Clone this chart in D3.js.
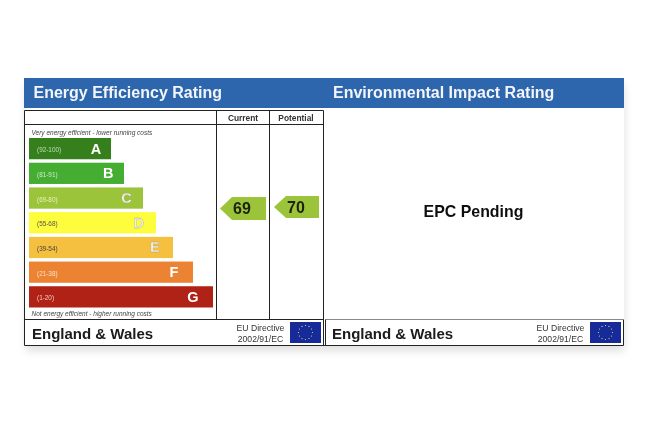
<!DOCTYPE html>
<html>
<head>
<meta charset="utf-8">
<script src="https://cdnjs.cloudflare.com/ajax/libs/d3/7.8.5/d3.min.js"></script>
<style>
html, body { margin: 0; padding: 0; background: #fff; }
svg { display: block; font-family: "Liberation Sans", Arial, sans-serif; }
</style>
</head>
<body>
<script>
// bands, top to bottom
const bandLetters = ["A", "B", "C", "D", "E", "F", "G"];
const bandRanges = ["(92-100)", "(81-91)", "(69-80)", "(55-68)", "(39-54)", "(21-38)", "(1-20)"];
const bandLengths = [82, 95, 114, 127, 144, 164, 184];
const bandColors = ["#35801f", "#44ad33", "#9cc43a", "#fdfd3c", "#f5c03f", "#ec8331", "#b12318"];
const rangeColors = ["#c4dcb8", "#cdeac6", "#e6f0c0", "#555", "#444", "#fbe0c8", "#f0c8c0"];
const letterColors = ["#fff", "#fff", "#f4f6e4", "#f4f4d0", "#fdf4dc", "#fff", "#fff"];

const columnNames = ["Current", "Potential"];
const ratings = [69, 70];
const titles = ["Energy Efficiency Rating", "Environmental Impact Rating"];

const width = 648, height = 446;

const svg = d3.select("body").append("svg")
    .attr("width", width).attr("height", height);

const defs = svg.append("defs");
const shadow = defs.append("filter").attr("id", "shadow")
    .attr("x", "-5%").attr("y", "-10%").attr("width", "110%").attr("height", "125%");
shadow.append("feGaussianBlur").attr("stdDeviation", 5);
const soft = defs.append("filter").attr("id", "soft");
soft.append("feGaussianBlur").attr("stdDeviation", 0.45);

// card shadow sits outside the blur group
svg.append("rect").attr("x", 26).attr("y", 84).attr("width", 598).attr("height", 267)
    .attr("fill", "#000").attr("opacity", 0.13).attr("filter", "url(#shadow)");

const g = svg.append("g").attr("filter", "url(#soft)");

g.append("rect").attr("x", 24).attr("y", 78).attr("width", 600).attr("height", 268).attr("fill", "#fff");
g.append("rect").attr("x", 24).attr("y", 78).attr("width", 600).attr("height", 30).attr("fill", "#2e66ad");

g.selectAll(".title").data(titles).enter().append("text")
    .attr("class", "title")
    .attr("x", (d, i) => i === 0 ? 33.5 : 333)
    .attr("y", 98)
    .attr("fill", "#f2f5fa")
    .attr("font-size", 16)
    .attr("font-weight", "bold")
    .text(d => d);

// table lines
const lines = [
    [24.5, 110.5, 323.5, 110.5], [216.5, 124.5, 216.5, 110.5], [269.5, 124.5, 269.5, 110.5],
    [24.5, 124.5, 323.5, 124.5], [24.5, 110.5, 24.5, 345.5], [323.5, 110.5, 323.5, 345.5],
    [216.5, 124.5, 216.5, 319.5], [269.5, 124.5, 269.5, 319.5],
    [24.5, 319.5, 323.5, 319.5], [24.5, 345.5, 623.5, 345.5],
    [623.5, 319.5, 623.5, 345.5], [325.5, 319.5, 623.5, 319.5], [325.5, 319.5, 325.5, 345.5]
];
g.selectAll(".rule").data(lines).enter().append("line")
    .attr("class", "rule")
    .attr("x1", d => d[0]).attr("y1", d => d[1]).attr("x2", d => d[2]).attr("y2", d => d[3])
    .attr("stroke", (d) => d[1] === 319.5 && d[0] === 325.5 && d[2] === 623.5 ? "#888" : "#222")
    .attr("stroke-width", 1);

// column headers
const colX = d3.scalePoint().domain(columnNames).range([243, 296]);
g.selectAll(".colname").data(columnNames).enter().append("text")
    .attr("class", "colname")
    .attr("x", d => colX(d)).attr("y", 120.5)
    .attr("text-anchor", "middle")
    .attr("font-size", 8.4).attr("font-weight", "bold").attr("fill", "#333")
    .text(d => d);

// caption lines
g.append("text").attr("x", 31.5).attr("y", 134.5)
    .attr("font-size", 6.5).attr("font-style", "italic").attr("fill", "#444")
    .text("Very energy efficient - lower running costs");
g.append("text").attr("x", 31.5).attr("y", 315.5)
    .attr("font-size", 6.5).attr("font-style", "italic").attr("fill", "#444")
    .text("Not energy efficient - higher running costs");

// bars
const y = d3.scaleBand().domain(bandLetters).range([138, 307.5]).paddingInner(0.14);
const x = d3.scaleLinear().domain([0, 184]).range([29, 213]);
const letterX = d3.scaleLinear().domain([82, 184]).range([96, 193]);

const band = g.selectAll(".band").data(bandLetters).enter().append("g").attr("class", "band");
band.append("rect")
    .attr("x", x(0))
    .attr("y", d => y(d))
    .attr("width", (d, i) => x(bandLengths[i]) - x(0))
    .attr("height", y.bandwidth())
    .attr("fill", (d, i) => bandColors[i]);
band.append("text")
    .attr("x", 37).attr("y", d => y(d) + y.bandwidth() / 2 + 3.5)
    .attr("font-size", 6.4)
    .attr("fill", (d, i) => rangeColors[i])
    .text((d, i) => bandRanges[i]);
band.append("text")
    .attr("x", (d, i) => letterX(bandLengths[i]))
    .attr("y", d => y(d) + y.bandwidth() / 2 + 5)
    .attr("text-anchor", "middle")
    .attr("font-size", 14.5).attr("font-weight", "bold")
    .attr("fill", (d, i) => letterColors[i])
    .attr("stroke", (d, i) => (i >= 2 && i <= 4) ? "#999" : "none")
    .attr("stroke-width", 0.3)
    .text(d => d);

// rating arrows
const arrowBox = [{x0: 220, x1: 266, y0: 197, y1: 220}, {x0: 274, x1: 319, y0: 196, y1: 218}];
const arrow = g.selectAll(".arrow").data(ratings).enter().append("g").attr("class", "arrow");
arrow.append("path")
    .attr("d", (d, i) => {
        const b = arrowBox[i];
        return d3.line()([[b.x0, (b.y0 + b.y1) / 2], [b.x0 + 12, b.y0], [b.x1, b.y0], [b.x1, b.y1], [b.x0 + 12, b.y1]]) + "Z";
    })
    .attr("fill", "#9cc43a");
arrow.append("text")
    .attr("x", (d, i) => arrowBox[i].x0 + 22)
    .attr("y", (d, i) => (arrowBox[i].y0 + arrowBox[i].y1) / 2 + 5.5)
    .attr("text-anchor", "middle")
    .attr("font-size", 16).attr("font-weight", "bold").attr("fill", "#1c2410")
    .text(d => d);

g.append("text").attr("x", 473.5).attr("y", 216.5)
    .attr("text-anchor", "middle")
    .attr("font-size", 15.9).attr("font-weight", "bold").attr("fill", "#111")
    .text("EPC Pending");

// footers, one per panel
const footerX = [0, 300];
const stars = d3.range(12);
footerX.forEach(dx => {
    const f = g.append("g").attr("transform", `translate(${dx},0)`);
    f.append("text").attr("x", 32).attr("y", 338.5)
        .attr("font-size", 15).attr("font-weight", "bold").attr("fill", "#1a1a1a")
        .text("England & Wales");
    f.append("text").attr("x", 260.5).attr("y", 331)
        .attr("text-anchor", "middle").attr("font-size", 8.6).attr("fill", "#333")
        .text("EU Directive");
    f.append("text").attr("x", 260.5).attr("y", 341.5)
        .attr("text-anchor", "middle").attr("font-size", 8.6).attr("fill", "#333")
        .text("2002/91/EC");
    f.append("rect").attr("x", 290).attr("y", 322).attr("width", 31).attr("height", 21).attr("fill", "#14299a");
    f.selectAll(".star").data(stars).enter().append("circle")
        .attr("class", "star")
        .attr("cx", d => 305.5 + 7 * Math.cos(d / 12 * 2 * Math.PI))
        .attr("cy", d => 332.5 + 7 * Math.sin(d / 12 * 2 * Math.PI))
        .attr("r", 0.6).attr("fill", "#e8e070");
});
</script>
</body>
</html>
